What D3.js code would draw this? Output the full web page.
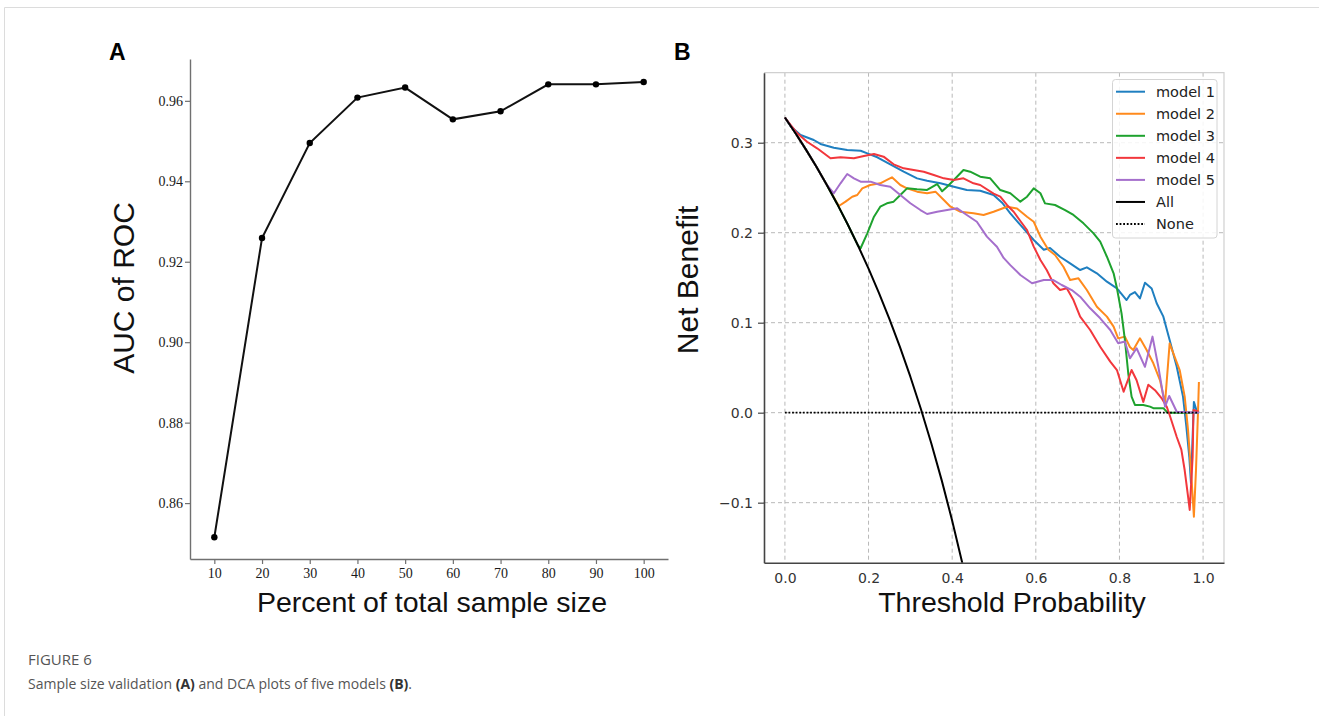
<!DOCTYPE html>
<html>
<head>
<meta charset="utf-8">
<script src="https://cdn.jsdelivr.net/npm/d3@7/dist/d3.min.js"></script>
<style>
  body { margin: 0; background: #fff; }
  svg { display: block; }
</style>
</head>
<body>
<svg id="fig" width="1319" height="716"></svg>
<script>
// panel A: sample size validation
const pct = [10, 20, 30, 40, 50, 60, 70, 80, 90, 100]
const auc = [0.8515, 0.9259, 0.9495, 0.9608, 0.9633, 0.9554, 0.9574, 0.9641, 0.9641, 0.9647]
const aucTicks = [0.86, 0.88, 0.90, 0.92, 0.94, 0.96]

// panel B: decision curves, [threshold, net benefit]
const model1 = [[0,0.328],[0.014,0.318],[0.0375,0.3086],[0.069,0.303],[0.085,0.2986],[0.117,0.2945],[0.149,0.2919],[0.181,0.2911],[0.197,0.2882],[0.221,0.2838],[0.252,0.276],[0.284,0.2678],[0.316,0.2604],[0.34,0.2578],[0.372,0.2549],[0.404,0.2511],[0.435,0.2474],[0.467,0.2467],[0.499,0.2419],[0.52,0.233],[0.539,0.2215],[0.563,0.2086],[0.595,0.1919],[0.619,0.181],[0.634,0.183],[0.658,0.1733],[0.682,0.166],[0.706,0.1585],[0.722,0.1615],[0.746,0.1549],[0.77,0.1456],[0.794,0.1382],[0.817,0.1252],[0.825,0.1308],[0.837,0.134],[0.849,0.127],[0.861,0.1444],[0.877,0.138],[0.889,0.1216],[0.905,0.1067],[0.92,0.0808],[0.937,0.051],[0.952,0.0178],[0.96,-0.0156],[0.967,-0.049],[0.971,-0.078],[0.978,0.012],[0.984,0.003],[0.99,0.0]]
const model2 = [[0,0.328],[0.025,0.3108],[0.05,0.2926],[0.075,0.2735],[0.1,0.2533],[0.129,0.2297],[0.145,0.2345],[0.161,0.24],[0.173,0.2419],[0.185,0.2493],[0.204,0.253],[0.228,0.2549],[0.244,0.2586],[0.256,0.2615],[0.276,0.253],[0.292,0.2493],[0.316,0.2456],[0.34,0.2438],[0.36,0.2456],[0.38,0.2363],[0.396,0.2289],[0.419,0.2233],[0.451,0.2215],[0.475,0.2197],[0.499,0.2233],[0.531,0.2289],[0.555,0.227],[0.579,0.2178],[0.595,0.2122],[0.611,0.1956],[0.63,0.181],[0.646,0.1752],[0.666,0.1622],[0.682,0.1474],[0.702,0.1493],[0.722,0.1363],[0.746,0.1178],[0.77,0.1067],[0.786,0.0956],[0.797,0.0826],[0.813,0.0845],[0.825,0.073],[0.833,0.0697],[0.849,0.0827],[0.865,0.0697],[0.881,0.0549],[0.897,0.036],[0.909,0.0104],[0.92,0.077],[0.932,0.062],[0.944,0.0474],[0.956,0.0178],[0.964,-0.0192],[0.972,-0.071],[0.978,-0.1156],[0.983,-0.064],[0.988,0.003],[0.99,0.034]]
const model3 = [[0,0.328],[0.025,0.3108],[0.05,0.2926],[0.075,0.2735],[0.1,0.2533],[0.125,0.232],[0.15,0.2094],[0.175,0.1855],[0.181,0.1827],[0.197,0.1993],[0.213,0.2178],[0.228,0.2289],[0.244,0.2327],[0.26,0.2345],[0.276,0.2419],[0.292,0.2493],[0.316,0.2482],[0.34,0.2475],[0.364,0.2541],[0.376,0.246],[0.388,0.2511],[0.404,0.2586],[0.427,0.2697],[0.443,0.2678],[0.467,0.2622],[0.491,0.2604],[0.515,0.2474],[0.539,0.2438],[0.563,0.2345],[0.579,0.24],[0.595,0.2493],[0.611,0.2438],[0.622,0.2326],[0.646,0.2308],[0.67,0.2252],[0.69,0.2197],[0.714,0.2104],[0.738,0.1993],[0.754,0.19],[0.77,0.1733],[0.786,0.1549],[0.794,0.1382],[0.805,0.1104],[0.813,0.0808],[0.821,0.0438],[0.829,0.0178],[0.837,0.0086],[0.857,0.0086],[0.873,0.0067],[0.881,0.005],[0.905,0.005],[0.915,0.0],[0.99,0.0]]
const model4 = [[0,0.328],[0.0295,0.3104],[0.053,0.3011],[0.077,0.2938],[0.109,0.2827],[0.133,0.2838],[0.165,0.2827],[0.189,0.2852],[0.213,0.2874],[0.236,0.2845],[0.26,0.276],[0.284,0.2715],[0.308,0.2697],[0.332,0.2678],[0.356,0.2641],[0.38,0.2604],[0.404,0.2586],[0.427,0.2604],[0.451,0.2549],[0.467,0.253],[0.499,0.2435],[0.515,0.24],[0.531,0.2308],[0.547,0.2233],[0.563,0.213],[0.579,0.203],[0.595,0.1845],[0.611,0.1697],[0.626,0.1585],[0.642,0.1438],[0.658,0.1363],[0.674,0.1382],[0.69,0.1252],[0.706,0.1067],[0.73,0.0919],[0.754,0.0733],[0.778,0.0567],[0.794,0.0474],[0.81,0.0233],[0.829,0.0474],[0.841,0.036],[0.857,0.012],[0.869,0.031],[0.885,0.025],[0.901,0.016],[0.913,0.0067],[0.92,-0.0026],[0.937,-0.027],[0.948,-0.041],[0.956,-0.064],[0.964,-0.093],[0.968,-0.108],[0.975,-0.049],[0.977,0.003],[0.99,0.001]]
const model5 = [[0,0.328],[0.025,0.3108],[0.05,0.2926],[0.075,0.2735],[0.1,0.2533],[0.117,0.2438],[0.133,0.2549],[0.149,0.2652],[0.165,0.2604],[0.181,0.2567],[0.205,0.2567],[0.228,0.253],[0.252,0.2511],[0.276,0.2419],[0.3,0.2327],[0.324,0.2252],[0.34,0.2208],[0.364,0.2233],[0.388,0.2252],[0.412,0.2271],[0.435,0.2197],[0.459,0.2122],[0.483,0.1956],[0.507,0.1844],[0.523,0.172],[0.539,0.164],[0.563,0.153],[0.591,0.1438],[0.619,0.1474],[0.642,0.1474],[0.662,0.1419],[0.686,0.1363],[0.706,0.1289],[0.73,0.116],[0.754,0.1049],[0.778,0.0919],[0.797,0.0771],[0.813,0.079],[0.825,0.0604],[0.841,0.0716],[0.861,0.051],[0.879,0.0845],[0.893,0.051],[0.909,0.0067],[0.919,0.0186],[0.937,0.001],[0.99,0.0]]
const treatAll = [[0,0.328],[0.025,0.3108],[0.05,0.2926],[0.075,0.2735],[0.1,0.2533],[0.125,0.232],[0.15,0.2094],[0.175,0.1855],[0.2,0.16],[0.225,0.1329],[0.25,0.104],[0.275,0.0731],[0.3,0.04],[0.325,0.0044],[0.35,-0.0339],[0.375,-0.0752],[0.4,-0.12],[0.425,-0.1687],[0.45,-0.222]]
const treatNone = [[0,0],[0.99,0]]

const seriesNames = ['model 1', 'model 2', 'model 3', 'model 4', 'model 5', 'All', 'None']
const seriesColors = ['#1f7fc0', '#ff8a1c', '#1ea22e', '#f2373c', '#a56fcc', '#000000', '#000000']
const xTicksB = [0, 0.2, 0.4, 0.6, 0.8, 1.0]
const yTicksB = [-0.1, 0, 0.1, 0.2, 0.3]

const svg = d3.select('#fig')
const sans = '"Liberation Sans", Arial, sans-serif'
const dejavu = '"DejaVu Sans", Verdana, sans-serif'

// card border
svg.append('path').attr('d', 'M4.5,716V7.5H1319').attr('fill', 'none').attr('stroke', '#dcdcdc')

// ---------- panel A ----------
const A = { left: 190, right: 668, top: 59, bottom: 559 }
const xA = d3.scaleLinear().domain([4.9, 105.1]).range([A.left, A.right])
const yA = d3.scaleLinear().domain([0.8461, 0.9704]).range([A.bottom, A.top])
const gA = svg.append('g')

const axA_y = gA.append('g').attr('transform', `translate(${A.left},0)`)
    .call(d3.axisLeft(yA).tickValues(aucTicks).tickFormat(d3.format('.2f')).tickSize(5).tickSizeOuter(0).tickPadding(2))
const axA_x = gA.append('g').attr('transform', `translate(0,${A.bottom})`)
    .call(d3.axisBottom(xA).tickValues(pct).tickFormat(d3.format('d')).tickSize(5).tickSizeOuter(0).tickPadding(4))
;[axA_y, axA_x].forEach(ax => {
    ax.select('.domain').attr('stroke', '#707070').attr('stroke-width', 1.4)
    ax.selectAll('.tick line').attr('stroke', '#707070').attr('stroke-width', 1.2)
    ax.selectAll('.tick text').attr('fill', '#1a1a1a').style('font-family', '"Liberation Serif", serif').style('font-size', '14px')
})

gA.append('path').datum(pct.map((p, i) => [p, auc[i]]))
    .attr('fill', 'none').attr('stroke', '#111').attr('stroke-width', 2)
    .attr('d', d3.line().x(d => xA(d[0])).y(d => yA(d[1])))
gA.selectAll('circle').data(pct).enter().append('circle')
    .attr('cx', d => xA(d)).attr('cy', (d, i) => yA(auc[i])).attr('r', 3.2).attr('fill', '#000')

gA.append('text').attr('x', 109).attr('y', 60).text('A')
    .style('font-family', sans).style('font-size', '23px').style('font-weight', 'bold')
gA.append('text').attr('transform', 'translate(134,288) rotate(-90)').attr('text-anchor', 'middle').text('AUC of ROC')
    .style('font-family', sans).style('font-size', '30px').attr('fill', '#111')
gA.append('text').attr('x', 432).attr('y', 612).attr('text-anchor', 'middle').text('Percent of total sample size')
    .style('font-family', sans).style('font-size', '28.5px').attr('fill', '#111')

// ---------- panel B ----------
const B = { left: 764, right: 1224, top: 72.7, bottom: 562.7 }
const xB = d3.scaleLinear().domain([-0.05, 1.05]).range([B.left, B.right])
const yB = d3.scaleLinear().domain([-0.1667, 0.3778]).range([B.bottom, B.top])
const gB = svg.append('g')

gB.append('clipPath').attr('id', 'clipB').append('rect')
    .attr('x', B.left).attr('y', B.top).attr('width', B.right - B.left).attr('height', B.bottom - B.top)

// grid
gB.append('g').selectAll('line').data(xTicksB).enter().append('line')
    .attr('x1', d => xB(d)).attr('x2', d => xB(d)).attr('y1', B.top).attr('y2', B.bottom)
    .attr('stroke', '#b8b8b8').attr('stroke-dasharray', '4,3').attr('stroke-width', 1)
gB.append('g').selectAll('line').data(yTicksB).enter().append('line')
    .attr('y1', d => yB(d)).attr('y2', d => yB(d)).attr('x1', B.left).attr('x2', B.right)
    .attr('stroke', '#b8b8b8').attr('stroke-dasharray', '4,3').attr('stroke-width', 1)

// light top / right spines
gB.append('path').attr('d', `M${B.left},${B.top}H${B.right}V${B.bottom}`)
    .attr('fill', 'none').attr('stroke', '#d0d0d0').attr('stroke-width', 1.2)

const curves = [model1, model2, model3, model4, model5, treatAll, treatNone]
const lineB = d3.line().x(d => xB(d[0])).y(d => yB(d[1]))
const plotB = gB.append('g').attr('clip-path', 'url(#clipB)')
curves.forEach((c, i) => {
    plotB.append('path').datum(c)
        .attr('fill', 'none')
        .attr('stroke', seriesColors[i])
        .attr('stroke-width', i === 6 ? 1.8 : 2)
        .attr('stroke-dasharray', i === 6 ? '1.8,1.8' : null)
        .attr('stroke-linejoin', 'round')
        .attr('d', lineB)
})

const axB_y = gB.append('g').attr('transform', `translate(${B.left},0)`)
    .call(d3.axisLeft(yB).tickValues(yTicksB).tickFormat(d => d3.format('.1f')(d).replace('-', '\u2212')).tickSize(6).tickSizeOuter(0).tickPadding(5))
const axB_x = gB.append('g').attr('transform', `translate(0,${B.bottom})`)
    .call(d3.axisBottom(xB).tickValues(xTicksB).tickFormat(d3.format('.1f')).tickSize(0).tickSizeOuter(0).tickPadding(10))
;[axB_y, axB_x].forEach(ax => {
    ax.select('.domain').attr('stroke', '#444').attr('stroke-width', 1.6)
    ax.selectAll('.tick line').attr('stroke', '#444').attr('stroke-width', 1.2)
    ax.selectAll('.tick text').attr('fill', '#333').style('font-family', dejavu).style('font-size', '14px')
})

gB.append('text').attr('x', 674).attr('y', 60).text('B')
    .style('font-family', sans).style('font-size', '23px').style('font-weight', 'bold')
gB.append('text').attr('transform', 'translate(698,280) rotate(-90)').attr('text-anchor', 'middle').text('Net Benefit')
    .style('font-family', sans).style('font-size', '30px').attr('fill', '#111')
gB.append('text').attr('x', 1012).attr('y', 612).attr('text-anchor', 'middle').text('Threshold Probability')
    .style('font-family', sans).style('font-size', '28.5px').attr('fill', '#111')

// legend
const leg = gB.append('g')
leg.append('rect').attr('x', 1112.5).attr('y', 79.5).attr('width', 104.5).attr('height', 158.5).attr('rx', 3)
    .attr('fill', 'rgba(255,255,255,0.85)').attr('stroke', '#d4d4d4')
const legItems = leg.selectAll('g.item').data(seriesNames).enter().append('g').attr('class', 'item')
    .attr('transform', (d, i) => `translate(0,${91.7 + i * 22.05})`)
legItems.append('line').attr('x1', 1116).attr('x2', 1145).attr('y1', 0).attr('y2', 0)
    .attr('stroke', (d, i) => seriesColors[i]).attr('stroke-width', (d, i) => i === 6 ? 1.8 : 2)
    .attr('stroke-dasharray', (d, i) => i === 6 ? '1.8,1.8' : null)
legItems.append('text').attr('x', 1156).attr('y', 0).attr('dy', '0.35em').text(d => d)
    .style('font-family', dejavu).style('font-size', '14.5px').attr('fill', '#222')

// caption
svg.append('text').attr('x', 28).attr('y', 665).text('FIGURE 6')
    .style('font-family', '"Open Sans", sans-serif').style('font-size', '15px').attr('fill', '#555')
const cap = svg.append('text').attr('x', 28).attr('y', 689)
    .style('font-family', '"Open Sans", sans-serif').style('font-size', '14px').attr('fill', '#555')
cap.append('tspan').text('Sample size validation ')
cap.append('tspan').text('(A)').style('font-weight', 'bold').attr('fill', '#333')
cap.append('tspan').text(' and DCA plots of five models ')
cap.append('tspan').text('(B)').style('font-weight', 'bold').attr('fill', '#333')
cap.append('tspan').text('.')
</script>
</body>
</html>
